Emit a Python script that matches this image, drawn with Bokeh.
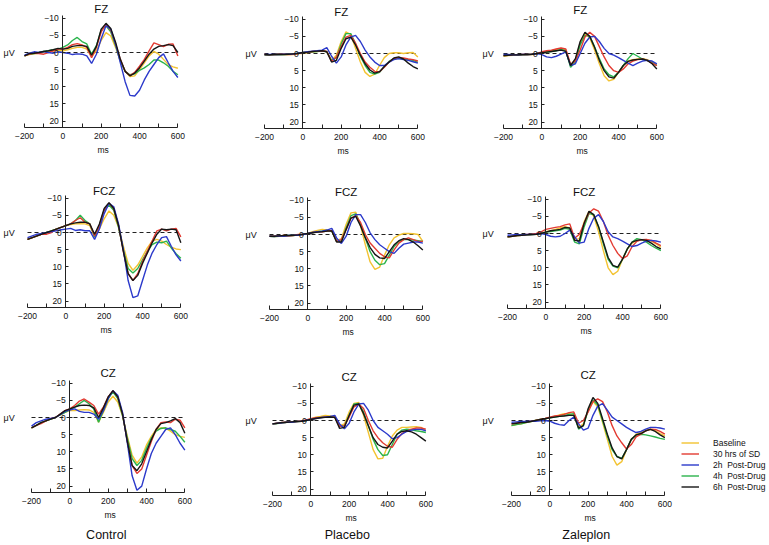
from bokeh.plotting import figure
from bokeh.models import Range1d, LinearAxis, FixedTicker, Label, Legend, LegendItem
from bokeh.layouts import column, row
from bokeh.embed import file_html
from bokeh.resources import INLINE

# ---------------- data ----------------
T = [-200, -175, -150, -125, -100, -75, -50, -25, 0, 25, 50, 75, 100, 125, 150, 175,
     200, 225, 250, 275, 300, 325, 350, 375, 400, 425, 450, 475, 500, 525, 550, 575, 600]

SITES = ["FZ", "FCZ", "CZ"]
GROUPS = ["Control", "Placebo", "Zaleplon"]
SERIES = ["Baseline", "30 hrs of SD", "2h  Post-Drug", "4h  Post-Drug", "6h  Post-Drug"]
X_TICKS = [-200, 0, 200, 400, 600]
X_MINOR = [-100, 100, 300, 500]
Y_TICKS = [-10, -5, 0, 5, 10, 15, 20]

# FZ
fz_control_base = [1.0, 0.6, 0.4, 0.2, -0.2, -0.4, -0.5, -0.6, -0.5, -0.8, -1.2, -1.5, -1.5, -1.0, 1.2, -0.5, -3.5, -5.8, -4.8, -1.5, 2.5, 5.5, 7.0, 6.8, 5.0, 3.0, 1.0, -0.3, 0.5, 2.0, 3.5, 4.2, 4.6]
fz_control_sd = [1.0, 0.5, 0.2, 0.3, 0.5, 0.0, -0.5, -1.0, -1.0, -1.5, -2.3, -2.6, -2.2, -1.5, 1.5, -1.5, -6.0, -8.2, -6.5, -2.5, 2.0, 5.5, 6.7, 5.8, 4.0, 2.0, -0.5, -2.8, -2.3, -1.7, -2.4, -2.5, 1.0]
fz_control_2h = [0.8, 0.2, -0.2, 0.0, -0.3, 0.0, 0.2, -0.2, 0.0, 0.2, 0.6, 0.4, 0.5, 1.0, 3.2, 0.5, -4.0, -7.8, -6.8, -2.5, 3.0, 8.5, 12.5, 12.7, 11.0, 8.0, 5.5, 3.5, 1.5, 0.4, 3.0, 5.5, 7.3]
fz_control_4h = [1.0, 0.5, 0.3, 0.0, -0.3, -0.5, -0.8, -1.0, -1.5, -2.2, -3.5, -4.4, -3.2, -2.5, 0.5, -2.0, -6.5, -7.8, -6.0, -2.0, 2.5, 5.5, 6.5, 6.2, 5.2, 4.5, 3.5, 2.2, 2.2, 3.0, 4.0, 5.5, 6.5]
fz_control_6h = [1.0, 0.3, 0.2, 0.0, -0.3, -0.5, -0.8, -1.2, -1.0, -1.2, -1.8, -2.0, -2.0, -1.8, 0.8, -1.8, -6.8, -8.5, -7.0, -3.0, 2.0, 5.5, 6.8, 6.0, 4.5, 2.5, 0.5, -1.0, -1.8, -2.0, -2.3, -2.0, 0.0]

fz_placebo_base = [0.3, 0.5, 0.3, 0.2, 0.3, 0.2, 0.3, 0.0, 0.0, -0.3, -0.5, -0.6, -0.8, -0.5, 2.0, 0.5, -3.5, -6.3, -5.5, -1.5, 2.5, 5.5, 6.7, 6.0, 3.5, 1.2, 0.0, -0.2, -0.2, 0.0, -0.2, -0.3, 1.0]
fz_placebo_sd = [0.3, 0.4, 0.3, 0.2, 0.2, 0.3, 0.2, 0.0, -0.2, -0.4, -0.6, -0.7, -0.8, -0.6, 2.3, 1.0, -2.0, -4.8, -5.3, -3.0, 0.0, 2.5, 4.0, 5.2, 5.3, 4.0, 2.5, 1.5, 1.2, 1.3, 1.6, 1.8, 2.2]
fz_placebo_2h = [0.3, 0.3, 0.2, 0.3, 0.2, 0.2, 0.1, -0.1, -0.3, -0.5, -0.7, -0.8, -1.0, -1.7, 0.8, 2.8, 1.0, -2.5, -4.8, -5.3, -3.5, -1.0, 1.0, 2.5, 3.5, 3.5, 2.5, 1.8, 1.5, 1.8, 2.0, 2.4, 2.8]
fz_placebo_4h = [0.4, 0.5, 0.3, 0.2, 0.3, 0.2, 0.1, -0.1, -0.3, -0.4, -0.5, -0.6, -0.8, -0.5, 2.0, 1.2, -2.8, -5.8, -5.8, -2.8, 0.8, 3.5, 5.5, 6.0, 5.5, 3.8, 2.3, 1.5, 1.4, 1.6, 1.8, 2.0, 2.6]
fz_placebo_6h = [0.3, 0.4, 0.2, 0.3, 0.3, 0.2, 0.1, 0.0, -0.3, -0.4, -0.6, -0.7, -0.8, -0.5, 2.5, 2.0, -1.5, -4.3, -4.8, -2.5, 0.5, 3.0, 4.8, 5.7, 5.3, 3.8, 2.5, 1.3, 1.0, 1.6, 2.8, 3.8, 4.5]

fz_zaleplon_base = [0.8, 0.6, 0.5, 0.4, 0.4, 0.3, 0.3, 0.1, -0.2, -0.5, -0.8, -1.2, -1.5, -1.0, 3.3, 1.8, -3.0, -6.0, -4.5, -1.0, 3.0, 6.5, 8.0, 7.5, 5.5, 3.5, 2.2, 1.8, 1.6, 1.5, 1.8, 2.5, 3.5]
fz_zaleplon_sd = [0.6, 0.5, 0.4, 0.4, 0.3, 0.3, 0.2, 0.0, -0.5, -0.8, -1.0, -1.3, -1.6, -1.3, 3.2, 2.2, -1.0, -4.8, -6.2, -5.0, -2.0, 1.0, 3.5, 5.0, 5.5, 4.5, 3.0, 2.2, 1.8, 1.6, 2.0, 2.8, 3.5]
fz_zaleplon_2h = [0.3, 0.3, 0.4, 0.4, 0.3, 0.3, 0.2, 0.0, 0.3, 1.0, 1.2, 0.8, 0.2, -0.5, 3.5, 3.0, 0.0, -3.0, -4.8, -5.0, -3.5, -1.5, 0.0, 0.5, 1.2, 2.0, 2.8, 3.5, 2.8, 2.2, 2.0, 2.2, 3.0]
fz_zaleplon_4h = [0.6, 0.5, 0.4, 0.5, 0.4, 0.3, 0.2, 0.0, -0.2, -0.4, -0.6, -0.8, -1.2, -0.8, 4.0, 2.5, -2.5, -5.3, -5.0, -2.0, 1.5, 4.5, 6.2, 6.8, 5.5, 3.5, 1.5, 0.0, 0.8, 1.6, 2.0, 2.6, 3.5]
fz_zaleplon_6h = [0.6, 0.5, 0.4, 0.4, 0.3, 0.3, 0.2, 0.0, -0.2, -0.4, -0.6, -0.8, -1.0, -0.6, 3.5, 1.5, -3.5, -6.2, -5.0, -1.8, 2.0, 5.0, 6.8, 7.2, 5.5, 3.5, 2.3, 1.9, 1.7, 1.6, 2.0, 3.0, 4.5]

# FCZ
fcz_control_base = [2.0, 1.5, 1.0, 0.5, 0.0, -0.5, -1.0, -1.5, -2.0, -2.3, -2.5, -2.6, -2.5, -2.0, 1.2, -1.0, -4.0, -6.3, -5.0, -1.5, 4.0, 9.0, 11.0, 9.5, 7.0, 4.5, 2.5, 2.0, 2.5, 3.5, 4.3, 4.8, 5.0]
fcz_control_sd = [2.0, 1.5, 1.0, 0.5, 0.5, 0.0, -1.0, -1.5, -2.0, -2.5, -3.5, -4.3, -3.0, -2.5, 1.0, -2.0, -6.5, -8.5, -7.0, -2.0, 5.5, 12.0, 14.0, 12.0, 8.5, 5.5, 2.5, -0.5, -1.0, -0.5, -1.0, -1.2, 1.3]
fcz_control_2h = [1.5, 1.0, 0.5, 0.3, 0.0, -0.3, -0.5, -0.8, -1.0, -1.2, -0.6, -0.8, -0.5, -0.5, 2.0, -1.0, -5.5, -8.5, -7.5, -2.5, 5.0, 14.0, 19.0, 18.5, 14.0, 9.5, 6.0, 3.5, 1.5, 1.2, 4.0, 6.5, 8.3]
fcz_control_4h = [2.0, 1.5, 1.0, 0.5, 0.0, -0.5, -1.0, -1.5, -2.0, -2.5, -3.5, -5.0, -3.5, -2.5, 1.3, -2.0, -6.5, -8.0, -6.5, -1.5, 5.0, 10.5, 11.8, 10.5, 8.0, 5.5, 3.5, 2.8, 3.0, 2.5, 4.5, 6.2, 7.5]
fcz_control_6h = [2.0, 1.5, 1.0, 0.5, 0.0, -0.5, -1.0, -1.5, -2.0, -2.5, -2.8, -3.0, -3.0, -2.5, 0.5, -2.5, -7.0, -8.7, -7.0, -2.0, 5.5, 12.0, 14.0, 12.5, 9.0, 6.0, 3.0, 0.5, -1.0, -0.8, -1.0, -0.8, 3.0]

fcz_placebo_base = [0.5, 0.6, 0.5, 0.3, 0.4, 0.2, 0.2, 0.0, -0.3, -0.8, -1.2, -1.5, -1.3, -1.0, 1.8, 1.2, -3.0, -6.3, -6.5, -2.5, 3.0, 8.0, 10.2, 9.5, 6.0, 3.0, 1.0, 0.2, -0.3, -0.3, -0.2, 0.0, 2.0]
fcz_placebo_sd = [0.5, 0.5, 0.4, 0.3, 0.4, 0.3, 0.0, 0.0, -0.3, -0.6, -0.8, -0.8, -1.0, -1.2, 2.0, 1.5, -1.5, -4.8, -5.5, -3.5, 0.0, 2.5, 4.0, 5.5, 6.5, 6.8, 4.5, 2.5, 1.5, 1.0, 1.5, 2.0, 2.0]
fcz_placebo_2h = [0.5, 0.6, 0.4, 0.5, 0.3, 0.2, 0.2, 0.0, -0.3, -0.6, -0.8, -1.0, -1.3, -1.8, 1.0, 2.6, 0.5, -3.5, -5.8, -5.8, -3.5, -0.5, 1.5, 3.0, 4.0, 5.0, 5.5, 4.0, 2.8, 2.5, 2.2, 2.2, 2.5]
fcz_placebo_4h = [0.5, 0.6, 0.5, 0.4, 0.3, 0.3, 0.1, 0.0, -0.3, -0.6, -0.8, -1.0, -1.2, -1.0, 2.0, 1.8, -2.0, -5.5, -6.0, -3.0, 1.0, 5.0, 7.5, 8.8, 8.5, 6.0, 3.5, 2.0, 1.5, 1.5, 1.6, 1.8, 2.0]
fcz_placebo_6h = [0.5, 0.5, 0.4, 0.3, 0.3, 0.2, 0.1, -0.1, -0.3, -0.5, -0.7, -0.8, -1.0, -1.0, 2.2, 2.2, -1.5, -4.8, -5.3, -2.5, 1.0, 3.8, 5.8, 6.8, 7.0, 5.0, 3.0, 1.8, 1.2, 1.5, 2.2, 3.3, 4.5]

fcz_zaleplon_base = [1.0, 0.8, 0.6, 0.5, 0.4, 0.3, 0.2, 0.0, -0.5, -0.8, -1.2, -1.6, -2.0, -1.6, 1.8, 1.5, -3.5, -6.5, -5.0, -0.5, 5.0, 10.0, 12.0, 11.0, 7.5, 4.5, 2.8, 2.0, 1.8, 1.9, 2.2, 3.0, 4.0]
fcz_zaleplon_sd = [1.0, 0.8, 0.6, 0.5, 0.3, 0.2, 0.0, -0.5, -1.2, -1.5, -1.8, -2.0, -2.5, -2.8, 1.4, 0.2, -3.0, -6.0, -7.2, -6.5, -3.5, 0.5, 3.5, 5.8, 7.3, 6.5, 3.8, 2.3, 1.8, 1.7, 2.0, 2.8, 3.5]
fcz_zaleplon_2h = [0.5, 0.4, 0.3, 0.4, 0.3, 0.3, 0.2, 0.0, 0.3, 0.8, 1.0, 0.8, 0.0, -1.0, 1.0, 2.8, 2.5, -1.5, -4.5, -5.5, -3.5, -0.5, 1.0, 1.5, 2.2, 3.0, 3.8, 3.5, 2.8, 2.2, 2.0, 2.2, 2.5]
fcz_zaleplon_4h = [1.0, 0.8, 0.6, 0.5, 0.4, 0.3, 0.2, 0.0, -0.4, -0.6, -0.8, -1.0, -1.5, -1.2, 2.5, 3.0, -2.0, -5.8, -5.5, -2.0, 3.0, 7.5, 9.5, 10.0, 7.5, 4.5, 2.5, 1.5, 1.8, 2.5, 3.5, 4.3, 5.0]
fcz_zaleplon_6h = [1.0, 0.8, 0.6, 0.5, 0.4, 0.3, 0.2, 0.0, -0.4, -0.8, -1.0, -1.2, -1.8, -1.6, 2.0, 2.2, -3.0, -6.5, -5.5, -2.0, 2.5, 7.0, 9.3, 9.8, 7.5, 4.5, 2.5, 2.0, 1.8, 2.0, 2.8, 3.8, 4.5]

# CZ
cz_control_base = [3.0, 2.3, 1.5, 1.0, 0.5, 0.0, -0.8, -1.5, -2.0, -2.0, -2.2, -2.3, -2.2, -1.5, 1.4, -1.5, -4.5, -6.2, -4.5, -0.5, 5.5, 11.0, 13.3, 11.5, 8.0, 5.5, 3.5, 3.0, 3.2, 4.0, 5.0, 5.5, 5.8]
cz_control_sd = [3.0, 2.3, 1.8, 1.0, 0.3, 0.0, -1.0, -2.0, -2.5, -3.5, -4.8, -5.4, -4.5, -3.5, -1.0, -3.0, -6.0, -7.8, -6.0, -1.0, 7.0, 14.0, 16.3, 15.0, 11.0, 7.0, 3.5, 1.5, 1.3, 1.5, 0.5, 0.8, 3.0]
cz_control_2h = [2.5, 1.5, 1.0, 0.5, 0.3, 0.0, -0.8, -1.8, -2.2, -2.5, -1.8, -1.5, -1.5, -1.0, 0.5, -2.0, -5.5, -7.8, -6.5, -1.5, 7.5, 17.0, 21.2, 20.0, 15.0, 10.5, 7.5, 5.5, 3.5, 3.0, 5.0, 7.5, 9.5]
cz_control_4h = [3.0, 2.3, 1.5, 1.0, 0.5, 0.0, -0.8, -1.5, -2.3, -3.0, -4.0, -5.0, -4.0, -2.5, 1.4, -2.0, -5.5, -7.5, -5.5, -0.5, 6.0, 12.0, 14.0, 12.5, 9.0, 6.0, 4.0, 3.2, 3.0, 3.5, 4.0, 5.5, 7.2]
cz_control_6h = [3.0, 2.3, 1.5, 1.0, 0.5, 0.0, -1.0, -2.0, -2.5, -3.0, -3.5, -3.6, -3.5, -2.8, 0.0, -2.8, -6.0, -7.8, -6.0, -1.0, 7.0, 14.0, 15.5, 13.5, 10.0, 6.5, 3.5, 1.8, 1.5, 1.0, 0.3, 1.5, 4.6]

cz_placebo_base = [1.0, 0.8, 0.7, 0.5, 0.5, 0.3, 0.2, 0.0, -0.5, -1.0, -1.2, -1.5, -1.3, -1.0, 1.5, 1.0, -2.5, -5.0, -5.3, -1.5, 3.5, 8.5, 11.2, 11.0, 7.5, 4.5, 2.8, 2.0, 2.0, 1.9, 1.8, 2.0, 3.0]
cz_placebo_sd = [1.0, 0.8, 0.6, 0.5, 0.4, 0.3, 0.1, -0.2, -0.5, -0.8, -0.9, -1.0, -1.0, -1.0, 1.8, 1.5, -1.0, -4.0, -4.8, -3.5, 0.0, 3.0, 5.0, 6.5, 7.5, 7.8, 5.5, 3.8, 3.0, 2.5, 2.2, 2.2, 2.5]
cz_placebo_2h = [1.0, 0.8, 0.7, 0.5, 0.5, 0.3, 0.2, 0.0, -0.3, -0.6, -0.8, -1.0, -1.2, -1.5, 1.0, 2.4, 0.8, -2.5, -4.8, -5.0, -3.0, 0.0, 2.0, 3.0, 4.0, 5.3, 5.0, 4.0, 3.2, 2.8, 2.6, 2.6, 3.0]
cz_placebo_4h = [1.0, 0.9, 0.7, 0.5, 0.5, 0.3, 0.2, 0.0, -0.4, -0.7, -0.9, -1.0, -1.1, -1.0, 1.6, 1.6, -1.5, -4.8, -5.0, -2.5, 1.5, 5.5, 8.5, 10.2, 10.0, 7.0, 4.0, 2.8, 2.5, 2.7, 3.0, 3.2, 3.5]
cz_placebo_6h = [1.0, 0.8, 0.6, 0.5, 0.4, 0.3, 0.2, 0.0, -0.3, -0.6, -0.8, -0.9, -1.0, -0.9, 2.3, 2.0, -1.5, -4.5, -4.8, -2.0, 1.5, 5.0, 7.0, 7.8, 8.0, 6.0, 4.0, 3.2, 3.0, 3.3, 4.0, 5.0, 6.0]

cz_zaleplon_base = [1.5, 1.2, 1.0, 0.6, 0.3, 0.0, -0.3, -0.5, -0.8, -1.2, -1.6, -2.0, -2.0, -1.5, 2.0, 1.0, -3.0, -5.5, -4.0, 0.5, 5.5, 10.5, 13.0, 12.0, 8.5, 5.5, 4.0, 3.5, 3.0, 2.6, 3.0, 3.8, 4.5]
cz_zaleplon_sd = [1.0, 0.8, 0.6, 0.4, 0.2, 0.0, -0.3, -0.6, -1.0, -1.3, -1.5, -1.8, -2.3, -2.5, 0.8, 0.0, -2.5, -5.5, -6.3, -5.5, -2.5, 1.5, 4.5, 6.5, 8.3, 7.0, 4.8, 4.0, 3.0, 2.5, 2.6, 3.2, 4.0]
cz_zaleplon_2h = [0.5, 0.4, 0.3, 0.3, 0.2, 0.2, 0.1, 0.0, 0.2, 0.8, 1.2, 1.4, 0.0, -1.0, 1.0, 2.8, 2.2, -1.5, -4.2, -4.9, -3.0, -1.0, 0.0, 1.0, 2.0, 2.8, 3.5, 3.2, 2.5, 2.0, 2.0, 2.2, 2.5]
cz_zaleplon_4h = [1.5, 1.2, 1.0, 0.6, 0.3, 0.0, -0.3, -0.5, -0.8, -1.0, -1.2, -1.5, -1.8, -2.0, 2.5, 1.5, -3.0, -6.0, -4.5, 0.0, 4.5, 8.5, 10.5, 11.0, 8.5, 5.5, 4.2, 4.0, 4.2, 4.5, 4.8, 5.2, 5.5]
cz_zaleplon_6h = [1.0, 0.8, 0.6, 0.5, 0.3, 0.0, -0.3, -0.5, -0.8, -1.0, -1.2, -1.3, -1.5, -1.5, 2.2, 1.5, -3.5, -6.7, -5.0, -0.5, 4.0, 8.0, 10.5, 11.2, 8.5, 5.5, 4.2, 3.8, 3.0, 2.6, 3.2, 4.2, 5.0]

PANELS = [
    [[fz_control_base, fz_control_sd, fz_control_2h, fz_control_4h, fz_control_6h],
     [fz_placebo_base, fz_placebo_sd, fz_placebo_2h, fz_placebo_4h, fz_placebo_6h],
     [fz_zaleplon_base, fz_zaleplon_sd, fz_zaleplon_2h, fz_zaleplon_4h, fz_zaleplon_6h]],
    [[fcz_control_base, fcz_control_sd, fcz_control_2h, fcz_control_4h, fcz_control_6h],
     [fcz_placebo_base, fcz_placebo_sd, fcz_placebo_2h, fcz_placebo_4h, fcz_placebo_6h],
     [fcz_zaleplon_base, fcz_zaleplon_sd, fcz_zaleplon_2h, fcz_zaleplon_4h, fcz_zaleplon_6h]],
    [[cz_control_base, cz_control_sd, cz_control_2h, cz_control_4h, cz_control_6h],
     [cz_placebo_base, cz_placebo_sd, cz_placebo_2h, cz_placebo_4h, cz_placebo_6h],
     [cz_zaleplon_base, cz_zaleplon_sd, cz_zaleplon_2h, cz_zaleplon_4h, cz_zaleplon_6h]],
]

# ---------------- styling / layout ----------------
COLORS = ["#F3C332", "#E33B32", "#2C3ACB", "#2BB44C", "#161616"]
DRAW_ORDER = [0, 3, 1, 2, 4]
FONT = "Liberation Sans"

COL_LEFT = [0, 240, 478]
COL_W = [240, 238, 290]
ROW_TOP = [0, 182, 364]
ROW_H = [182, 182, 180]
XPIX = [[24, 264, 503], [27, 269, 507], [31, 272, 511]]   # page x of t=-200
Y0PIX = [[52, 53, 53], [232, 234, 233], [417, 420, 420]]  # page y of 0 uV
TITLE_PIX = [[8.5, 11, 9.5], [190.5, 191.5, 191], [372.5, 376, 374.5]]
MU_PIX = [3, 245, 482]
GROUP_PIX = 534
PXMS = 0.1917
PXUV = 3.43

figs = []
for r in range(3):
    row_figs = []
    for c in range(3):
        def xd(px):
            return -200 + (px - XPIX[r][c]) / PXMS

        def yd(py):
            return (py - Y0PIX[r][c]) / PXUV

        p = figure(width=COL_W[c], height=ROW_H[r], output_backend="svg", toolbar_location=None,
                   x_range=Range1d(xd(COL_LEFT[c]), xd(COL_LEFT[c] + COL_W[c])),
                   y_range=Range1d(yd(ROW_TOP[r] + ROW_H[r]), yd(ROW_TOP[r])),
                   x_axis_location=None, y_axis_location=None,
                   min_border=0, min_border_left=0, min_border_right=0,
                   min_border_top=0, min_border_bottom=0)
        p.outline_line_color = None
        p.grid.visible = False
        p.background_fill_color = "white"
        p.border_fill_color = "white"

        xa = LinearAxis(fixed_location=22, bounds=(X_TICKS[0], X_TICKS[-1]),
                        ticker=FixedTicker(ticks=X_TICKS, minor_ticks=X_MINOR),
                        major_tick_in=4, major_tick_out=0, minor_tick_in=4, minor_tick_out=0,
                        major_label_standoff=5, axis_line_color="#222222",
                        major_tick_line_color="#222222", minor_tick_line_color="#222222",
                        major_label_text_font=FONT, major_label_text_font_size="8.5px",
                        major_label_text_color="#111111")
        p.add_layout(xa, "below")
        ya = LinearAxis(fixed_location=0, bounds=(-10.7, 22),
                        ticker=FixedTicker(ticks=Y_TICKS, minor_ticks=[]),
                        major_tick_in=3, major_tick_out=0, minor_tick_in=0, minor_tick_out=0,
                        major_label_standoff=4, axis_line_color="#222222",
                        major_tick_line_color="#222222",
                        major_label_text_font=FONT, major_label_text_font_size="8.5px",
                        major_label_text_color="#111111")
        p.add_layout(ya, "left")

        p.segment(x0=[T[0]], y0=[0], x1=[T[-1]], y1=[0], line_color="#222222",
                  line_width=1, line_dash="4 3")

        series = PANELS[r][c]
        rends = {}
        for k in DRAW_ORDER:
            rends[k] = p.line(T, series[k], line_color=COLORS[k], line_width=1.4)

        p.add_layout(Label(x=200, y=yd(TITLE_PIX[r][c]), text=SITES[r], text_align="center",
                           text_baseline="middle", text_font=FONT, text_font_size="11.5px",
                           text_color="#111111"))
        p.add_layout(Label(x=xd(MU_PIX[c]), y=0, text="\u03bcV", text_align="left",
                           text_baseline="middle", text_font=FONT, text_font_size="9px",
                           text_color="#111111"))
        p.add_layout(Label(x=210, y=28.4, text="ms", text_align="center",
                           text_baseline="middle", text_font=FONT, text_font_size="8.5px",
                           text_color="#111111"))
        if r == 2:
            p.add_layout(Label(x=190, y=yd(GROUP_PIX), text=GROUPS[c], text_align="center",
                               text_baseline="middle", text_font=FONT, text_font_size="12.5px",
                               text_color="#111111"))
        if r == 2 and c == 2:
            items = [LegendItem(label=SERIES[k], renderers=[rends[k]]) for k in range(5)]
            leg = Legend(items=items, location=(203, 52), padding=0, margin=0, spacing=0,
                         glyph_width=18, glyph_height=11, label_height=11, label_width=10,
                         label_standoff=14, label_text_font=FONT, label_text_font_size="8.5px",
                         label_text_color="#111111", border_line_alpha=0,
                         background_fill_alpha=0)
            p.add_layout(leg)
        row_figs.append(p)
    figs.append(row(*row_figs))

layout = column(*figs)
open("out.html", "w").write(file_html(layout, INLINE))
